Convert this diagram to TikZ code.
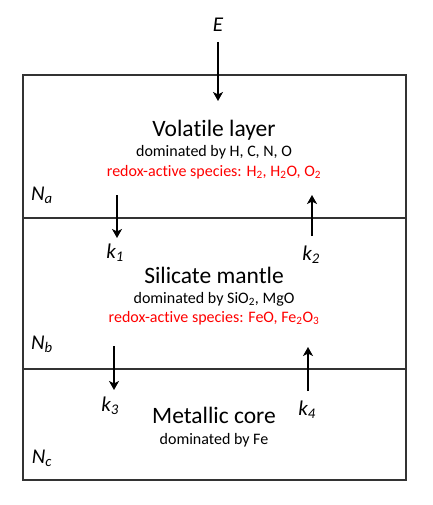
\documentclass[tikz,border=0pt]{standalone}
\usepackage{fontspec}
\setmainfont{Carlito}[RawFeature={-liga,-clig,-calt,-dlig}]
\usetikzlibrary{arrows.meta,positioning}

\begin{document}
\begin{tikzpicture}[x=1pt,y=-1pt]
\tikzstyle{layer}=[draw=black!80, line width=1.2pt, minimum width=383pt,
  inner sep=0pt, outer sep=0pt]
\tikzstyle{ttl}=[font=\fontsize{23.5}{24}\selectfont, inner sep=0pt]
\tikzstyle{sub}=[font=\fontsize{16}{17}\selectfont, inner sep=0pt]
\tikzstyle{redox}=[sub, text=red]
\tikzstyle{sym}=[font=\fontsize{21}{22}\selectfont\itshape, inner sep=0pt]
\tikzstyle{flow}=[-{Stealth[length=9pt,width=10pt,inset=2.5pt]}, line width=2.4pt]
\useasboundingbox (0,0) rectangle (432,505);
% the three reservoirs
\node[layer, minimum height=143pt] (vol) at (214.5,146.5) {};
\node[layer, minimum height=151pt, below=0pt of vol] (sil) {};
\node[layer, minimum height=111pt, below=0pt of sil] (core) {};
% volatile layer
\node[ttl] (voltl) at (214,130) {Volatile layer};
\node[sub] (volsub) at (214,152) {dominated by H, C, N, O};
\node[redox] (volred) at (214,172) {redox-active species: H\textsubscript{2}, H\textsubscript{2}O, O\textsubscript{2}};
\node[sym] (Na) at (42,195) {N\textsubscript{a}};
% silicate mantle
\node[ttl] (siltl) at (214,275) {Silicate mantle};
\node[sub] (silsub) at (214,299) {dominated by SiO\textsubscript{2}, MgO};
\node[redox] (silred) at (214,318) {redox-active species: FeO, Fe\textsubscript{2}O\textsubscript{3}};
\node[sym] (Nb) at (42,344) {N\textsubscript{b}};
% metallic core
\node[ttl] (coretl) at (214,415) {Metallic core};
\node[sub] (coresub) at (214,440) {dominated by Fe};
\node[sym] (Nc) at (42,458) {N\textsubscript{c}};
% fluxes
\node[sym] (E) at (218,25) {E};
\node[sym] (k1) at (115,253) {k\textsubscript{1}};
\node[sym] (k2) at (311,255) {k\textsubscript{2}};
\node[sym] (k3) at (110,406) {k\textsubscript{3}};
\node[sym] (k4) at (307,410) {k\textsubscript{4}};
\coordinate (Etip) at (218,101);
\coordinate (k1in) at (117,195);
\coordinate (k2tip) at (312,195);
\coordinate (k3in) at (114,346);
\coordinate (k4tip) at (308,347);
\draw[flow] (E |- 0,42) -- (Etip);
\draw[flow] (k1in) -- (k1in |- 0,238);
\draw[flow] (k2tip |- 0,236) -- (k2tip);
\draw[flow] (k3in) -- (k3in |- 0,390);
\draw[flow] (k4tip |- 0,391) -- (k4tip);
\end{tikzpicture}
\end{document}
